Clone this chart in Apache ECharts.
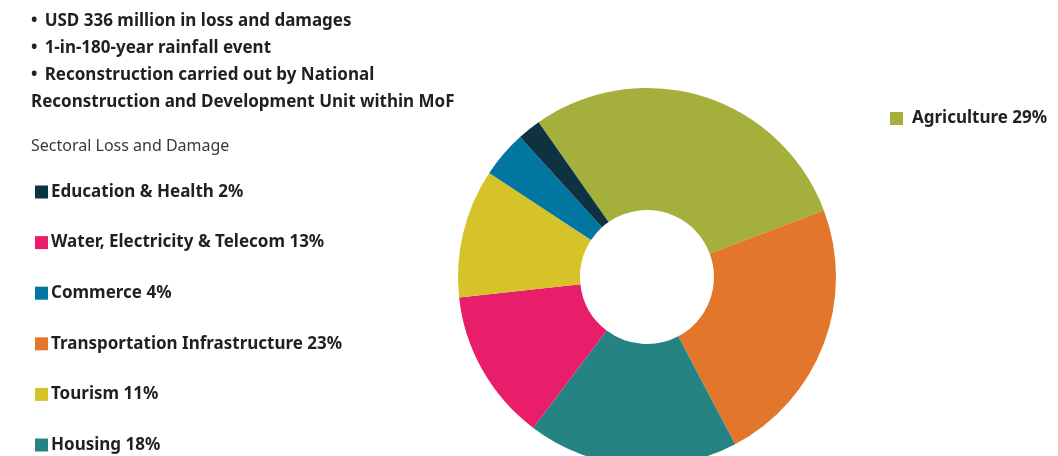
<!DOCTYPE html>
<html>
<head>
<meta charset="utf-8">
<script src="https://cdn.jsdelivr.net/npm/echarts@6/dist/echarts.min.js"></script>
<style>
  html, body { margin: 0; padding: 0; background: #fff; }
  #chart { width: 1058px; height: 456px; }
</style>
</head>
<body>
<div id="chart"></div>
<script>
// data
var sectors = ['Agriculture', 'Transportation Infrastructure', 'Housing', 'Water, Electricity & Telecom', 'Tourism', 'Commerce', 'Education & Health'];
var shares = [29, 23, 18, 13, 11, 4, 2];
var sectorColors = ['#A5AF3B', '#E2762A', '#258483', '#E91E6A', '#D6C229', '#0076A0', '#0E3242'];
var leftLegend = ['Education & Health', 'Water, Electricity & Telecom', 'Commerce', 'Transportation Infrastructure', 'Tourism', 'Housing'];
var rightLegend = ['Agriculture'];
var headlines = [
  '\u2022 \u2009USD 336 million in loss and damages',
  '\u2022 \u20091-in-180-year rainfall event',
  '\u2022 \u2009Reconstruction carried out by National',
  'Reconstruction and Development Unit within MoF'
];
var subtitle = 'Sectoral Loss and Damage';

var FONT = '"Noto Sans", "Open Sans", sans-serif';
var INK = '#231F20';

var chart = echarts.init(document.getElementById('chart'));

function legendLabel(name) {
  return name + ' ' + shares[sectors.indexOf(name)] + '%';
}

var graphics = headlines.map(function (t, i) {
  return {
    type: 'text',
    left: 31,
    top: 13 + i * 27,
    silent: true,
    style: { text: t, fill: INK, font: 'bold 17px ' + FONT }
  };
});
graphics.push({
  type: 'text',
  left: 31,
  top: 138,
  silent: true,
  style: { text: subtitle, fill: '#3a3a3a', font: '16px ' + FONT }
});

var legendText = { color: INK, fontFamily: FONT, fontWeight: 'bold', fontSize: 17, lineHeight: 17 };

var option = {
  animation: false,
  color: sectorColors,
  graphic: graphics,
  legend: [
    {
      data: leftLegend,
      orient: 'vertical',
      left: 30,
      top: 178.5,
      height: 400,
      itemWidth: 13,
      itemHeight: 13,
      itemGap: 33.6,
      icon: 'rect',
      selectedMode: false,
      formatter: legendLabel,
      textStyle: Object.assign({ padding: [0, 0, 0, -2] }, legendText)
    },
    {
      data: rightLegend,
      orient: 'vertical',
      left: 885,
      top: 105,
      itemWidth: 13,
      itemHeight: 13,
      icon: 'rect',
      selectedMode: false,
      formatter: legendLabel,
      textStyle: Object.assign({ padding: [0, 0, 0, 4] }, legendText)
    }
  ],
  series: [
    {
      type: 'pie',
      center: [647, 277],
      radius: [67, 189],
      startAngle: 125,
      silent: true,
      label: { show: false },
      labelLine: { show: false },
      itemStyle: { borderWidth: 0 },
      data: sectors.map(function (s, i) {
        return { name: s, value: shares[i] };
      })
    }
  ]
};

chart.setOption(option);
</script>
</body>
</html>
